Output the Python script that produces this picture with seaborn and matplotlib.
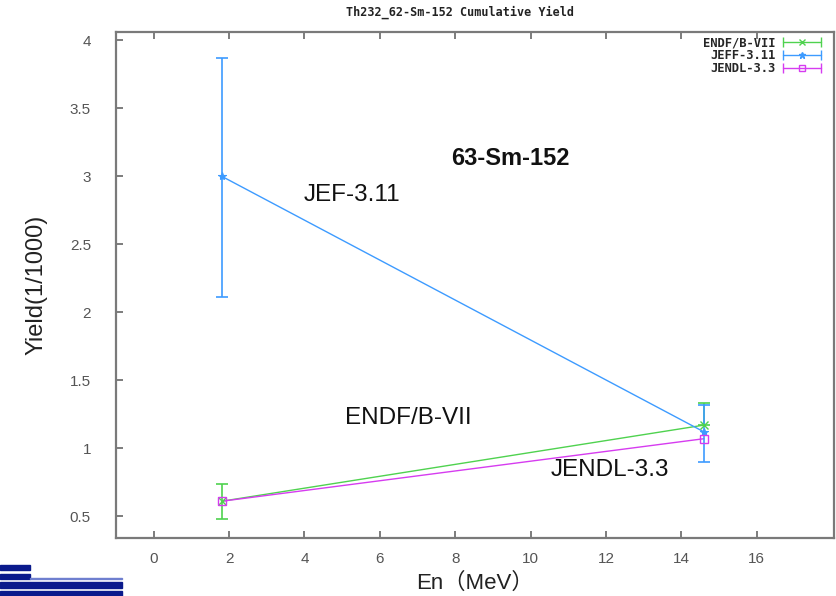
import matplotlib
matplotlib.use("Agg")
import matplotlib.pyplot as plt
from matplotlib.lines import Line2D
from matplotlib.legend_handler import HandlerBase
from matplotlib.patches import Rectangle
import seaborn as sns
import pandas as pd

# ---- data ----
energies = [1.8, 14.6]
endf_y = [0.61, 1.17]
endf_err_lo = [0.13, 0.0]
endf_err_hi = [0.13, 0.16]
jeff_y = [3.0, 1.12]
jeff_err_lo = [0.89, 0.22]
jeff_err_hi = [0.87, 0.20]
jendl_y = [0.61, 1.07]
series_names = ["ENDF/B-VII", "JEFF-3.11", "JENDL-3.3"]
colors = ["#4fd24f", "#3d9bff", "#d63cf0"]
markers = ["x", "*", "s"]
x_ticks = [0, 2, 4, 6, 8, 10, 12, 14, 16]
y_ticks = [0.5, 1, 1.5, 2, 2.5, 3, 3.5, 4]
y_tick_labels = ["0.5", "1", "1.5", "2", "2.5", "3", "3.5", "4"]

sns.set_theme(style="white")
plt.rcParams["font.family"] = ["Liberation Sans", "Noto Sans CJK SC", "DejaVu Sans"]

df = pd.DataFrame({
    "En": energies * 3,
    "Yield": endf_y + jeff_y + jendl_y,
    "lib": [series_names[0]] * 2 + [series_names[1]] * 2 + [series_names[2]] * 2,
})

fig = plt.figure(figsize=(8.37, 5.96), dpi=100)
ax = fig.add_axes([116 / 837, 1 - 538 / 596, (834 - 116) / 837, (538 - 32) / 596])

pal = dict(zip(series_names, colors))
sns.lineplot(data=df, x="En", y="Yield", hue="lib", palette=pal, ax=ax,
             legend=False, linewidth=1.0, estimator=None, sort=False)

# error bars
ax.errorbar(energies, endf_y, yerr=[endf_err_lo, endf_err_hi], fmt="none",
            ecolor=colors[0], elinewidth=1.2, capsize=4, capthick=1.2, zorder=3)
ax.errorbar(energies, jeff_y, yerr=[jeff_err_lo, jeff_err_hi], fmt="none",
            ecolor=colors[1], elinewidth=1.2, capsize=4, capthick=1.2, zorder=4)

# markers
ax.plot(energies, endf_y, linestyle="none", marker="x", color=colors[0], ms=6, mew=1.0, zorder=5)
ax.plot(energies, jeff_y, linestyle="none", marker="*", color=colors[1], ms=6, mew=0.8, zorder=5)
ax.plot(energies, jendl_y, linestyle="none", marker="s", mfc="none", mec=colors[2], ms=6, mew=1.0, zorder=5)

ax.set_xlim(-1, 18.05)
ax.set_ylim(0.34, 4.06)
ax.set_xticks(x_ticks)
ax.set_yticks(y_ticks)
ax.set_yticklabels(y_tick_labels)
ax.tick_params(axis="both", direction="in", length=5, width=1.2, color="#666666",
               labelcolor="#555555", labelsize=11, top=True, bottom=True, left=True)
ax.tick_params(axis="x", pad=10)
ax.tick_params(axis="y", pad=18)
for s in ax.spines.values():
    s.set_color("#7a7a7a")
    s.set_linewidth(1.6)

ax.set_xlabel("En（MeV）", fontsize=16, color="#222222", labelpad=5)
ax.set_ylabel("Yield(1/1000)", fontsize=17, color="#222222", labelpad=16)

# annotations
ax.text(9.47, 3.13, "63-Sm-152", fontsize=17, fontweight="bold", ha="center", va="center", color="#111111")
ax.text(5.27, 2.86, "JEF-3.11", fontsize=17.5, ha="center", va="center", color="#111111")
ax.text(6.75, 1.22, "ENDF/B-VII", fontsize=17.5, ha="center", va="center", color="#111111")
ax.text(12.1, 0.84, "JENDL-3.3", fontsize=17.5, ha="center", va="center", color="#111111")

fig.text(0.55, 0.979, "Th232_62-Sm-152 Cumulative Yield", fontsize=8.5, fontweight="bold",
         family="DejaVu Sans Mono", ha="center", va="center", color="#222222")


# legend with gnuplot-style errorbar handles
class ErrKey:
    def __init__(self, color, marker):
        self.color = color
        self.marker = marker


class ErrHandler(HandlerBase):
    def create_artists(self, legend, orig_handle, xdescent, ydescent, width, height, fontsize, trans):
        c, m = orig_handle.color, orig_handle.marker
        y = height / 2 - ydescent
        x0, x1 = -xdescent, -xdescent + width
        line = Line2D([x0, x1], [y, y], color=c, lw=1.0)
        caps = Line2D([x0, x1], [y, y], ls="none", marker="|", ms=7, mew=1.0, color=c)
        mk = Line2D([(x0 + x1) / 2], [y], ls="none", marker=m, ms=5, color=c,
                    mfc="none" if m == "s" else c, mew=1.0)
        for a in (line, caps, mk):
            a.set_transform(trans)
        return [line, caps, mk]


keys = [ErrKey(c, m) for c, m in zip(colors, markers)]
leg = ax.legend(keys, series_names, handler_map={ErrKey: ErrHandler()},
                loc="upper right", bbox_to_anchor=(0.993, 1.008), frameon=False,
                markerfirst=False, handlelength=3.1, handletextpad=0.6,
                labelspacing=0.0, borderaxespad=0.3,
                prop={"family": "DejaVu Sans Mono", "weight": "bold", "size": 8.7})

# logo bars bottom-left
navy = "#0a1a8c"
for (x0, y0, w, h) in [(0, 565, 30, 5), (0, 574, 30, 5), (0, 582, 122, 6), (0, 591, 122, 5)]:
    fig.patches.append(Rectangle((x0 / 837, 1 - (y0 + h) / 596), w / 837, h / 596,
                                 transform=fig.transFigure, color=navy, zorder=10))
fig.patches.append(Rectangle((30 / 837, 1 - 579 / 596), 92 / 837, 1.5 / 596,
                             transform=fig.transFigure, color="#6f7fcf", zorder=10))

fig.savefig("out.png", dpi=100)
